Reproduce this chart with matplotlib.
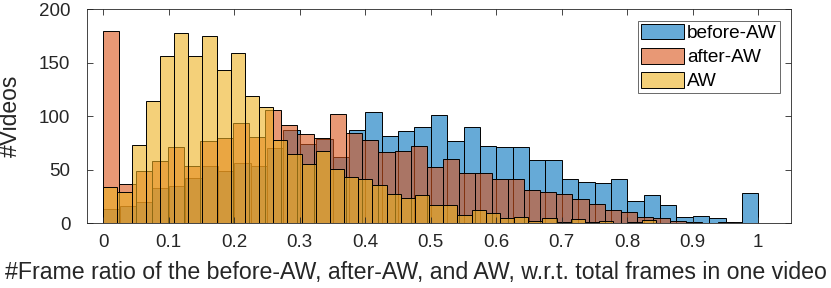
import numpy as np
import matplotlib
matplotlib.use("Agg")
import matplotlib.pyplot as plt
from matplotlib.colors import to_rgba
from matplotlib.patches import Patch

# ---- data (histogram counts) ----
series_names = ["before-AW", "after-AW", "AW"]

before_bin_width = 0.025
before_counts = [13, 16, 20, 33, 35, 42, 54, 49, 56, 54,
                 70, 87, 74, 79, 62, 87, 104, 82, 86, 90,
                 101, 77, 90, 72, 71, 71, 59, 59, 41, 39,
                 38, 41, 21, 26, 17, 6, 7, 5, 1, 28]

after_bin_width = 0.0247
after_counts = [180, 37, 49, 58, 71, 54, 77, 80, 94, 81,
                106, 92, 83, 80, 102, 84, 78, 67, 68, 72,
                53, 60, 47, 47, 41, 41, 31, 29, 27, 23,
                18, 12, 11, 6, 5, 2, 1, 0, 1, 0]

aw_bin_width = 0.02163
aw_counts = [34, 29, 73, 114, 156, 178, 156, 175, 143, 159,
             119, 109, 78, 65, 55, 68, 51, 43, 41, 36,
             27, 24, 26, 17, 17, 8, 12, 10, 5, 6,
             2, 5, 1, 4, 1, 2, 0, 1, 3, 0]

x_ticks = [0, 0.1, 0.2, 0.3, 0.4, 0.5, 0.6, 0.7, 0.8, 0.9, 1]
x_tick_labels = ["0", "0.1", "0.2", "0.3", "0.4", "0.5", "0.6", "0.7", "0.8", "0.9", "1"]
y_ticks = [0, 50, 100, 150, 200]

colors = ["#0072BD", "#D95319", "#EDB120"]
alpha = 0.6

plt.rcParams['font.family'] = ['Liberation Sans', 'DejaVu Sans']

fig = plt.figure(figsize=(8.31, 2.88), dpi=100)
ax = fig.add_axes([0.1046, 0.2247, 0.9519 - 0.1046, 0.9677 - 0.2247])

axis_col = (0.15, 0.15, 0.15)

for counts, w, c in [(before_counts, before_bin_width, colors[0]),
                     (after_counts, after_bin_width, colors[1]),
                     (aw_counts, aw_bin_width, colors[2])]:
    left = np.arange(len(counts)) * w
    ax.bar(left, counts, width=w, align='edge',
           facecolor=to_rgba(c, alpha), edgecolor='black', linewidth=0.7)

ax.set_xlim(-0.025, 1.05)
ax.set_ylim(0, 200)
ax.set_xticks(x_ticks)
ax.set_xticklabels(x_tick_labels)
ax.set_yticks(y_ticks)
ax.tick_params(direction='in', length=4, width=0.6, colors=axis_col,
               labelsize=13.5, top=True, right=True)
ax.tick_params(axis='x', pad=7.5)
ax.tick_params(axis='y', pad=12)
for s in ax.spines.values():
    s.set_color(axis_col)
    s.set_linewidth(0.6)

ax.set_xlabel("#Frame ratio of the before-AW, after-AW, and AW, w.r.t. total frames in one video",
              fontsize=16.7, color=axis_col, labelpad=3)
ax.xaxis.set_label_coords(0.4667, -0.175)
ax.xaxis.label.set_verticalalignment('top')
ax.set_ylabel("#Videos", fontsize=16.5, color=axis_col, labelpad=4)
ax.yaxis.set_label_coords(-0.092, 0.5)
ax.yaxis.label.set_verticalalignment('bottom')

handles = [Patch(facecolor=to_rgba(c, alpha), edgecolor='black', linewidth=0.7)
           for c in colors]
leg = ax.legend(handles, series_names, loc='upper right', fontsize=13.7,
                frameon=True, fancybox=False, edgecolor=axis_col,
                handlelength=2.26, handleheight=0.9, handletextpad=0.15,
                labelspacing=0.3, borderpad=0.15, borderaxespad=0.6)
leg.get_frame().set_linewidth(0.6)

fig.savefig("out.png", dpi=100)
